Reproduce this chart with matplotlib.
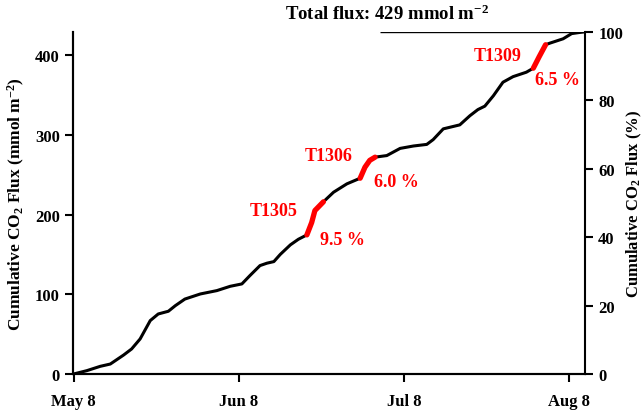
import numpy as np
import matplotlib
matplotlib.use("Agg")
import matplotlib.pyplot as plt

plt.rcParams['font.family'] = ['Liberation Serif', 'DejaVu Serif']
plt.rcParams['font.weight'] = 'bold'
plt.rcParams['mathtext.fontset'] = 'custom'
plt.rcParams['mathtext.rm'] = 'Liberation Serif:bold'
plt.rcParams['mathtext.it'] = 'Liberation Serif:bold'
plt.rcParams['mathtext.bf'] = 'Liberation Serif:bold'
plt.rcParams['mathtext.default'] = 'rm'

# days since May 8 and cumulative flux (mmol m-2)
days = [0, 2.5, 5, 6.9, 9.4, 10.9, 12.5, 14.4, 15.9, 17.8, 19.1, 20.9, 23.8,
        26.9, 29.4, 31.6, 33.1, 35, 36.3, 37.6, 38.8, 40.7, 42.2, 43.8, 44.7,
        45.3, 46.9, 48.8, 51.3, 53.8, 54.7, 55.6, 56.6, 58.8, 61.3, 63.8, 66.3,
        67.5, 69.4, 72.5, 74.4, 75.9, 77.2, 78.8, 80.6, 82.5, 85, 86.3, 87.4,
        88.6, 89.4, 91.9, 93.5, 95.6]
flux = [0, 4.2, 9.6, 12.5, 23.8, 31.4, 44, 67, 75.3, 78.7, 85.7, 94, 100.4,
        104.6, 110, 113, 123.4, 136, 139, 141, 150, 162, 169, 174.5, 190,
        205, 216, 228, 238.5, 245.6, 259.4, 268, 272, 274, 283, 286, 288,
        294, 307.5, 312.5, 324, 331.7, 336, 349, 366, 373, 378.6, 383.6, 398,
        413, 415, 420.5, 427, 429]
total = 429

typhoons = ['T1305', 'T1306', 'T1309']
typhoon_share = ['9.5 %', '6.0 %', '6.5 %']
typhoon_periods = [(43.8, 46.9), (53.8, 56.6), (86.3, 88.6)]
# label anchors (day, flux) for name and share
name_pos = [(42.1, 205), (52.3, 274), (84.1, 399)]
share_pos = [(46.3, 169), (56.4, 241), (86.6, 370)]

tick_days = [0, 31, 62, 93]
tick_labels = ['May 8', 'Jun 8', 'Jul 8', 'Aug 8']

days = np.array(days)
flux = np.array(flux)

fig = plt.figure(figsize=(6.44, 4.14), dpi=100)
ax = fig.add_axes([73 / 644, 1 - 375 / 414, 512 / 644, 342 / 414])
ax2 = ax.twinx()

ax.plot(days, flux, color='black', lw=2.2, zorder=3, solid_joinstyle='round')
for (d0, d1) in typhoon_periods:
    m = (days >= d0) & (days <= d1)
    ax.plot(days[m], flux[m], color='red', lw=3.8, solid_capstyle='round',
            solid_joinstyle='round', zorder=4)

for name, share, npos, spos in zip(typhoons, typhoon_share, name_pos, share_pos):
    ax.text(npos[0], npos[1], name, color='red', fontsize=13, fontweight='bold',
            ha='right', va='center')
    ax.text(spos[0], spos[1], share, color='red', fontsize=13, fontweight='bold',
            ha='left', va='center')

ax.hlines(total, 57.5, 96, color='black', lw=1)

ax.set_xlim(-0.1, 96)
ax.set_ylim(0, total)
ax2.set_ylim(0, 100)
ax.set_xticks(tick_days)
ax.set_xticklabels(tick_labels)
ax.set_yticks([0, 100, 200, 300, 400])
ax2.set_yticks([0, 20, 40, 60, 80, 100])

for a in (ax, ax2):
    a.spines['top'].set_visible(False)
    for s in a.spines.values():
        s.set_linewidth(1.5)
    a.tick_params(width=1.5, length=6, labelsize=12, direction='out')
ax.tick_params(axis='x', pad=8)
ax.spines['right'].set_visible(False)

ax.set_ylabel('Cumulative CO$_2$ Flux (mmol m$^{-2}$)', fontsize=12.5, fontweight='bold', labelpad=6)
ax2.set_ylabel('Cumulative CO$_2$ Flux (%)', fontsize=12, fontweight='bold', labelpad=1)

fig.text(387 / 644, 1 - 14 / 414, 'Total flux: 429 mmol m$^{-2}$', ha='center', va='center',
         fontsize=13.5, fontweight='bold')

fig.savefig('out.png', dpi=100)
